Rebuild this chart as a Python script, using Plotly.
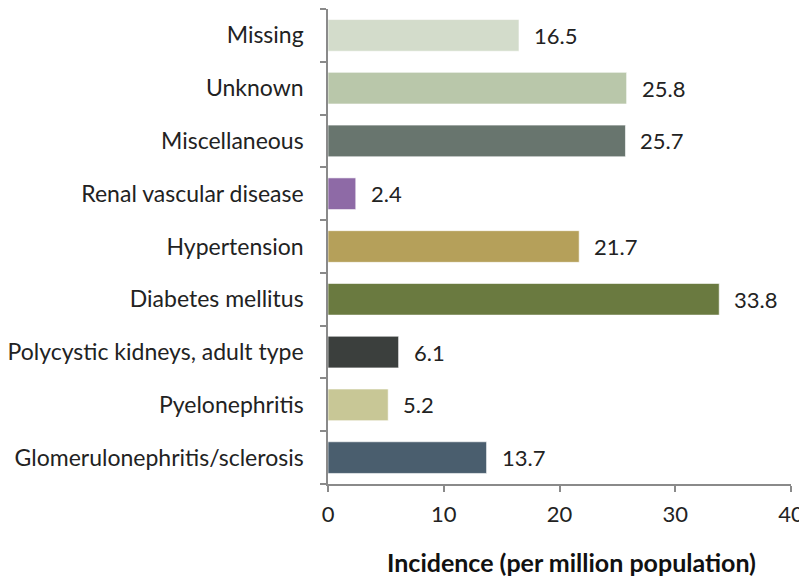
import plotly.graph_objects as go

causes = ["Glomerulonephritis/sclerosis", "Pyelonephritis", "Polycystic kidneys, adult type",
          "Diabetes mellitus", "Hypertension", "Renal vascular disease",
          "Miscellaneous", "Unknown", "Missing"]
incidence = [13.7, 5.2, 6.1, 33.8, 21.7, 2.4, 25.7, 25.8, 16.5]
colors = ["#4a5e6e", "#c8c796", "#3b3f3d", "#6a7a40", "#b5a05a",
          "#8e6aa6", "#68756e", "#b9c7aa", "#d3dccb"]
xticks = [0, 10, 20, 30, 40]

FONT = "Lato, Open Sans, sans-serif"

fig = go.Figure(go.Bar(
    x=incidence, y=causes, orientation="h",
    marker=dict(color=colors, line=dict(color="rgba(255,255,255,0.6)", width=1)),
    width=0.6,
))

for v, c in zip(incidence, causes):
    fig.add_annotation(x=v, y=c, text=f"{v:.1f}", showarrow=False,
                       xanchor="left", xshift=13,
                       font=dict(family=FONT, size=22, color="#222222"))

# axis title as a paper annotation so it sits where the reference has it
fig.add_annotation(x=0.5, y=-0.165, xref="paper", yref="paper", showarrow=False,
                   xanchor="center", yanchor="middle", xshift=12,
                   text="<b>Incidence (per million population)</b>",
                   font=dict(family=FONT, size=25, color="#111111"))

# page body has an 8px margin, so the figure is drawn 8px smaller
fig.update_layout(
    width=799, height=571,
    margin=dict(l=320, r=16, t=1, b=95),
    plot_bgcolor="white", paper_bgcolor="white",
    showlegend=False,
    font=dict(family=FONT, size=22, color="#222222"),
    xaxis=dict(range=[0, 40], tickvals=xticks, showgrid=False, zeroline=False,
               showline=True, linecolor="#8a8a8a", linewidth=1.5,
               ticks="outside", ticklen=6, tickcolor="#8a8a8a", tickwidth=1.5,
               ticklabelstandoff=4, automargin=False, ticklabeloverflow="allow"),
    yaxis=dict(showgrid=False, zeroline=False, showline=True,
               linecolor="#8a8a8a", linewidth=1.5,
               ticks="outside", ticklen=6, tickcolor="#8a8a8a", tickwidth=1.5,
               tickson="boundaries", ticklabelstandoff=18, automargin=False,
               ticklabeloverflow="allow", tickfont=dict(size=23)),
)

fig.write_html("out.html")
